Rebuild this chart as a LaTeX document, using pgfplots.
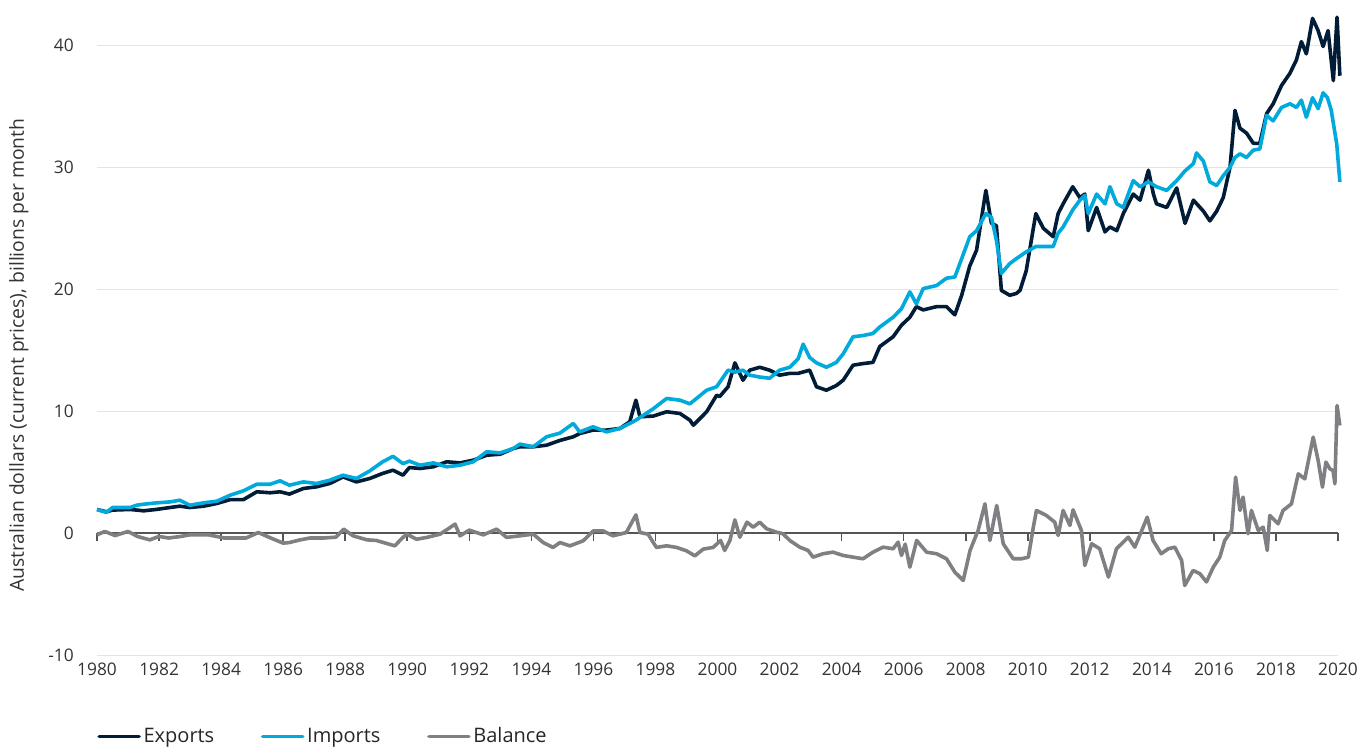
\documentclass[border=0pt]{standalone}
\usepackage{fontspec}
\setmainfont{Open Sans}
\usepackage{pgfplots}
\usepackage{pgfplotstable}
\pgfplotsset{compat=1.18}
\definecolor{expcol}{RGB}{0,28,54}
\definecolor{impcol}{RGB}{0,170,220}
\definecolor{balcol}{RGB}{128,128,132}
\definecolor{gridcol}{RGB}{228,228,228}
\definecolor{zerocol}{RGB}{85,85,85}

\pgfplotstableread{
x y
1980.0 1.94
1980.3 1.75
1980.5 1.89
1981.06 1.94
1981.28 1.89
1981.5 1.83
1981.9 1.94
1982.35 2.10
1982.67 2.21
1982.99 2.10
1983.43 2.21
1983.86 2.43
1984.29 2.75
1984.72 2.75
1985.15 3.39
1985.58 3.31
1985.9 3.39
1986.2 3.2
1986.65 3.66
1987.08 3.8
1987.5 4.07
1987.93 4.61
1988.36 4.2
1988.79 4.48
1989.2 4.89
1989.54 5.16
1989.86 4.75
1990.07 5.38
1990.41 5.3
1990.84 5.44
1991.27 5.85
1991.7 5.76
1992.13 5.98
1992.56 6.39
1992.99 6.47
1993.42 6.94
1993.63 7.08
1994.06 7.08
1994.49 7.21
1994.92 7.6
1995.35 7.9
1995.56 8.17
1995.99 8.45
1996.42 8.45
1996.85 8.58
1997.17 9.13
1997.37 10.9
1997.5 9.54
1997.93 9.6
1998.36 9.95
1998.79 9.81
1999.11 9.26
1999.22 8.85
1999.65 9.95
1999.97 11.3
2000.07 11.2
2000.34 12.0
2000.56 13.96
2000.82 12.54
2001.04 13.36
2001.36 13.6
2001.68 13.36
2002.0 12.95
2002.33 13.1
2002.6 13.1
2002.97 13.36
2003.19 12.0
2003.51 11.72
2003.83 12.1
2004.05 12.54
2004.37 13.77
2004.69 13.9
2005.01 14.0
2005.23 15.3
2005.66 16.1
2005.93 17.05
2006.2 17.7
2006.41 18.57
2006.63 18.3
2007.06 18.57
2007.38 18.57
2007.65 17.9
2007.87 19.5
2008.13 21.9
2008.35 23.2
2008.65 28.1
2008.83 25.4
2008.99 25.2
2009.15 19.9
2009.42 19.5
2009.63 19.65
2009.75 19.9
2009.95 21.5
2010.26 26.2
2010.5 25.0
2010.82 24.3
2010.98 26.2
2011.14 27.0
2011.45 28.4
2011.68 27.5
2011.84 27.8
2011.95 24.8
2012.22 26.7
2012.49 24.7
2012.65 25.1
2012.87 24.8
2013.08 26.2
2013.4 27.8
2013.62 27.3
2013.89 29.75
2014.05 27.8
2014.15 27.0
2014.48 26.7
2014.8 28.3
2015.07 25.4
2015.34 27.3
2015.66 26.4
2015.87 25.6
2016.09 26.4
2016.3 27.5
2016.52 30.0
2016.68 34.66
2016.84 33.2
2017.05 32.8
2017.27 31.96
2017.48 31.96
2017.7 34.4
2017.91 35.2
2018.18 36.7
2018.45 37.7
2018.66 38.8
2018.82 40.3
2018.98 39.3
2019.18 42.2
2019.36 41.2
2019.52 39.9
2019.68 41.2
2019.85 37.1
2019.97 42.3
2020.06 37.5
}\exports

\pgfplotstableread{
x y
1980.0 1.94
1980.3 1.70
1980.5 2.10
1981.06 2.10
1981.28 2.29
1981.5 2.37
1981.9 2.48
1982.35 2.56
1982.67 2.70
1982.99 2.29
1983.43 2.48
1983.86 2.62
1984.29 3.11
1984.72 3.47
1985.15 4.01
1985.58 4.01
1985.9 4.29
1986.2 3.93
1986.65 4.2
1987.08 4.07
1987.5 4.34
1987.93 4.75
1988.36 4.48
1988.79 5.1
1989.2 5.84
1989.54 6.3
1989.86 5.7
1990.07 5.9
1990.41 5.57
1990.84 5.76
1991.27 5.44
1991.7 5.57
1992.13 5.85
1992.56 6.67
1992.99 6.58
1993.42 6.94
1993.63 7.3
1994.06 7.08
1994.49 7.9
1994.92 8.2
1995.35 8.99
1995.56 8.3
1995.99 8.72
1996.42 8.3
1996.85 8.58
1997.17 8.99
1997.37 9.26
1997.5 9.48
1997.93 10.2
1998.36 11.04
1998.79 10.9
1999.11 10.6
1999.65 11.72
1999.97 12.0
2000.34 13.36
2000.56 13.2
2000.82 13.36
2001.04 12.95
2001.36 12.8
2001.68 12.7
2002.0 13.36
2002.33 13.6
2002.6 14.3
2002.76 15.5
2002.97 14.4
2003.19 13.96
2003.51 13.6
2003.83 14.0
2004.05 14.7
2004.37 16.1
2004.69 16.2
2005.01 16.37
2005.23 16.9
2005.66 17.7
2005.93 18.4
2006.2 19.78
2006.41 18.8
2006.63 20.05
2007.06 20.3
2007.38 20.9
2007.65 21.0
2007.87 22.5
2008.13 24.3
2008.35 24.8
2008.65 26.2
2008.83 25.9
2008.99 24.0
2009.15 21.3
2009.42 22.1
2009.63 22.5
2009.95 23.06
2010.26 23.5
2010.5 23.5
2010.82 23.5
2010.98 24.6
2011.14 25.1
2011.45 26.5
2011.68 27.3
2011.84 27.7
2011.95 26.2
2012.22 27.8
2012.49 27.0
2012.65 28.4
2012.87 27.0
2013.08 26.7
2013.4 28.9
2013.62 28.4
2013.89 28.8
2014.15 28.4
2014.48 28.1
2014.8 28.9
2015.07 29.7
2015.34 30.3
2015.44 31.17
2015.66 30.5
2015.87 28.8
2016.09 28.5
2016.3 29.3
2016.52 30.0
2016.68 30.8
2016.84 31.1
2017.05 30.8
2017.27 31.4
2017.48 31.5
2017.7 34.25
2017.91 33.8
2018.18 34.9
2018.45 35.2
2018.66 34.9
2018.82 35.5
2018.98 34.1
2019.18 35.7
2019.36 34.8
2019.52 36.1
2019.66 35.7
2019.78 34.7
2019.96 31.9
2020.06 28.8
}\imports

\pgfplotstableread{
x y
1980.0 -0.14
1980.25 0.14
1980.58 -0.2
1981.0 0.14
1981.3 -0.27
1981.7 -0.55
1982.0 -0.27
1982.3 -0.4
1982.7 -0.27
1983.0 -0.14
1983.3 -0.14
1983.6 -0.14
1984.1 -0.4
1984.4 -0.4
1984.8 -0.4
1985.2 0.05
1985.6 -0.4
1986.0 -0.82
1986.2 -0.77
1986.55 -0.55
1986.86 -0.4
1987.3 -0.4
1987.7 -0.33
1987.95 0.33
1988.25 -0.22
1988.7 -0.55
1989.0 -0.6
1989.3 -0.82
1989.6 -1.04
1989.8 -0.5
1989.98 -0.08
1990.3 -0.5
1990.63 -0.35
1991.06 -0.08
1991.38 0.46
1991.54 0.74
1991.7 -0.22
1992.0 0.25
1992.45 -0.14
1992.88 0.33
1993.2 -0.35
1993.63 -0.22
1994.06 -0.08
1994.38 -0.77
1994.7 -1.17
1994.92 -0.77
1995.24 -1.04
1995.67 -0.63
1996.0 0.19
1996.31 0.19
1996.63 -0.22
1997.06 0.05
1997.37 1.5
1997.5 0.05
1997.76 -0.08
1998.03 -1.17
1998.36 -1.04
1998.68 -1.17
1999.0 -1.45
1999.27 -1.86
1999.54 -1.31
1999.86 -1.17
2000.1 -0.6
2000.23 -1.42
2000.4 -0.6
2000.56 1.09
2000.72 -0.33
2000.95 0.9
2001.15 0.49
2001.36 0.9
2001.58 0.36
2001.9 0.08
2002.11 -0.05
2002.33 -0.6
2002.65 -1.15
2002.92 -1.42
2003.08 -1.97
2003.4 -1.69
2003.72 -1.56
2004.05 -1.83
2004.37 -1.97
2004.69 -2.1
2005.01 -1.56
2005.34 -1.15
2005.66 -1.28
2005.82 -0.74
2005.93 -1.83
2006.05 -0.9
2006.2 -2.79
2006.42 -0.6
2006.74 -1.56
2007.06 -1.69
2007.38 -2.1
2007.65 -3.2
2007.92 -3.88
2008.14 -1.42
2008.4 0.22
2008.62 2.4
2008.78 -0.6
2009.0 2.27
2009.21 -0.87
2009.53 -2.1
2009.8 -2.1
2010.02 -1.97
2010.18 0.49
2010.28 1.86
2010.6 1.45
2010.87 0.9
2010.98 -0.19
2011.14 1.86
2011.36 0.63
2011.46 1.91
2011.73 0.22
2011.84 -2.65
2012.06 -0.87
2012.32 -1.28
2012.6 -3.6
2012.86 -1.28
2013.24 -0.33
2013.45 -1.15
2013.72 0.49
2013.85 1.31
2014.04 -0.6
2014.3 -1.69
2014.53 -1.28
2014.74 -1.15
2014.96 -2.24
2015.06 -4.29
2015.33 -3.06
2015.55 -3.33
2015.76 -4.0
2015.98 -2.79
2016.19 -1.97
2016.35 -0.6
2016.57 0.22
2016.7 4.59
2016.84 1.86
2016.94 2.95
2017.1 -0.05
2017.21 1.86
2017.43 0.22
2017.59 0.49
2017.72 -1.42
2017.8 1.45
2018.07 0.77
2018.23 1.86
2018.5 2.4
2018.72 4.86
2018.93 4.45
2019.2 7.87
2019.36 5.96
2019.5 3.77
2019.61 5.82
2019.74 5.27
2019.84 5.14
2019.9 4.04
2019.97 10.46
2020.06 8.83
}\balance

\begin{document}
\begin{tikzpicture}
\begin{axis}[
  scale only axis,
  width=930.75pt, height=491.25pt,
  xmin=1980, xmax=2020, ymin=-10, ymax=43.7,
  clip=false,
  axis line style={draw=none},
  major tick length=0pt,
  xtick={1980,1982,...,2020},
  ytick={-10,0,10,20,30,40},
  ymajorgrids, grid style={gridcol, line width=0.9pt},
  /pgf/number format/assume math mode=true,
  xticklabel={\pgfmathprintnumber[1000 sep={}]{\tick}},
  yticklabel={\pgfmathprintnumber{\tick}},
  ticklabel style={font=\fontsize{13pt}{15pt}\selectfont, text=black!80},
  yticklabel style={xshift=-14pt},
  xticklabel style={yshift=-2pt},
  ylabel={Australian dollars (current prices), billions per month},
  ylabel style={at={(rel axis cs:-0.063,0.458)}, anchor=center, font=\fontsize{14.5pt}{17pt}\selectfont, text=black!80},
  legend style={at={(rel axis cs:0,-0.124)}, anchor=west, draw=none, fill=none,
    legend columns=-1, font=\fontsize{15pt}{18pt}\selectfont, text=black!85,
    /tikz/every even column/.append style={column sep=33pt},
    inner sep=0pt},
  legend image code/.code={\draw[#1, line cap=round] (0pt,0pt) -- (30pt,0pt);},
  every axis plot/.append style={line width=2.7pt, line join=round},
]
\draw[zerocol, line width=1.5pt] (axis cs:1980,0) -- (axis cs:2020,0);
\pgfplotsinvokeforeach{1980,1982,...,2020}{\draw[zerocol, line width=1.2pt] (axis cs:#1,0) -- ++(0pt,-6pt);}
\addplot[expcol] table {\exports};
\addlegendentry{Exports}
\addplot[impcol] table {\imports};
\addlegendentry{Imports}
\addplot[balcol] table {\balance};
\addlegendentry{Balance}
\path (rel axis cs:-0.0782,-0.1405) rectangle (rel axis cs:1.0258,1);
\end{axis}
\end{tikzpicture}
\end{document}
